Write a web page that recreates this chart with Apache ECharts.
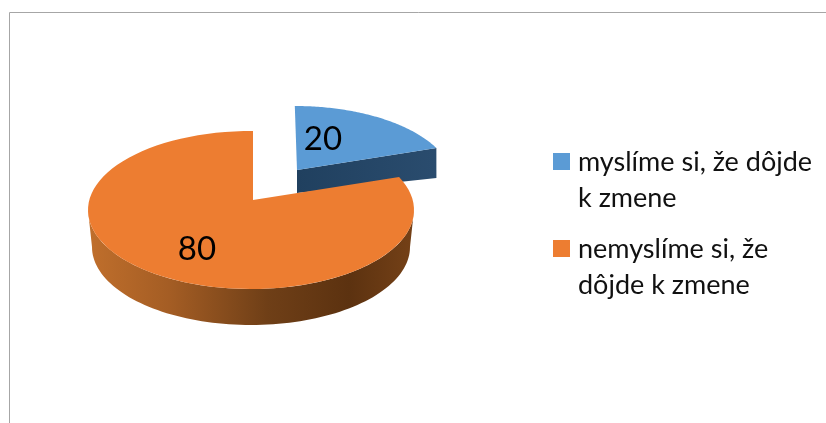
<!DOCTYPE html>
<html>
<head>
<meta charset="utf-8">
<style>html,body{margin:0;padding:0;background:#fff}#c{width:826px;height:423px}</style>
<script src="https://cdn.jsdelivr.net/npm/echarts@6/dist/echarts.min.js"></script>
</head>
<body>
<div id="c"></div>
<script>
var categories = ['myslíme si, že dôjde k zmene', 'nemyslíme si, že dôjde k zmene'];
var legendLines = [['myslíme si, že dôjde', 'k zmene'], ['nemyslíme si, že', 'dôjde k zmene']];
var values = [20, 80];
var colors = ['#5b9bd5', '#ed7d31'];

// Projected geometry of each exploded slice (ellipse of top and bottom face, apex lift)
var layout = [
  { cx: 295, cy: 182, rx: 158, ry: 76, lift: -12, apexDx: 2, lean: -2.6, botDepthApex: 23, botDepthEnd: 30,
    label: [323, 139], side: ['#20405f', '#2a4c6e'] },
  { cx: 251, cy: 210, rx: 163, ry: 79, lift: -10, apexDx: 2, lean: 0, botCy: 247, botRx: 159, botRy: 78,
    label: [197, 249],
    side: [[0, '#c06f2c'], [0.25, '#a45d24'], [0.55, '#6f3f17'], [0.8, '#5c3210'], [1, '#754117']] }
];

var total = values.reduce(function (a, b) { return a + b; }, 0);

// parametric ellipse angle hit by a ray leaving the apex at the projected slice angle
function rayParam(g, frac) {
  var a = frac * 2 * Math.PI;
  var dx = Math.sin(a) * g.rx + Math.cos(a) * g.lean, dy = -Math.cos(a) * g.ry;
  var ox = g.apexDx / g.rx, oy = g.lift / g.ry;
  var ux = dx / g.rx, uy = dy / g.ry;
  var A = ux * ux + uy * uy, B = 2 * (ox * ux + oy * uy), C = ox * ox + oy * oy - 1;
  var s = (-B + Math.sqrt(B * B - 4 * A * C)) / (2 * A);
  return Math.atan2(ox + s * ux, -(oy + s * uy));
}
function pt(cx, cy, rx, ry, t) { return [cx + Math.sin(t) * rx, cy - Math.cos(t) * ry]; }
function arc(cx, cy, rx, ry, t0, t1) {
  var out = [], n = 90;
  for (var i = 0; i <= n; i++) out.push(pt(cx, cy, rx, ry, t0 + (t1 - t0) * i / n));
  return out;
}

function makeRender(idx) {
  return function (params, api) {
    var g = layout[idx], v = api.value(0);
    var before = 0;
    for (var i = 0; i < idx; i++) before += values[i];
    var t0 = rayParam(g, before / total);
    var t1 = rayParam(g, (before + v) / total);
    if (t1 <= t0) t1 += 2 * Math.PI;
    var apex = [g.cx + g.apexDx, g.cy + g.lift];
    var top = arc(g.cx, g.cy, g.rx, g.ry, t0, t1);
    var children = [];
    if (idx === 0) {
      var e = top[top.length - 1];
      children.push({
        type: 'polygon',
        shape: { points: [apex, e, [e[0], e[1] + g.botDepthEnd], [apex[0], apex[1] + g.botDepthApex]] },
        style: { fill: { type: 'linear', x: 0, y: 0, x2: 1, y2: 0,
          colorStops: [{ offset: 0, color: g.side[0] }, { offset: 1, color: g.side[1] }] } }
      });
    } else {
      var upper = arc(g.cx, g.cy, g.rx, g.ry, Math.PI / 2, 3 * Math.PI / 2);
      var lower = arc(g.cx, g.botCy, g.botRx, g.botRy, 3 * Math.PI / 2, Math.PI / 2);
      children.push({
        type: 'polygon',
        shape: { points: upper.concat(lower) },
        style: { fill: { type: 'linear', x: 0, y: 0, x2: 1, y2: 0,
          colorStops: g.side.map(function (s) { return { offset: s[0], color: s[1] }; }) } }
      });
    }
    children.push({
      type: 'polygon',
      shape: { points: [apex].concat(top) },
      style: { fill: colors[idx] }
    });
    children.push({
      type: 'text',
      style: { x: g.label[0], y: g.label[1], text: String(v), fill: '#000',
        font: '33px Lato', align: 'center', verticalAlign: 'middle' }
    });
    return { type: 'group', children: children };
  };
}

var chart = echarts.init(document.getElementById('c'), null, { renderer: 'canvas' });
chart.setOption({
  animation: false,
  color: colors,
  backgroundColor: '#fff',
  graphic: [
    { type: 'rect', shape: { x: 9.5, y: 12.5, width: 1000, height: 600 },
      style: { fill: 'none', stroke: '#a6a6a6', lineWidth: 1 }, silent: true, z: -1 }
  ],
  legend: {
    left: 553, top: 144, orient: 'vertical', padding: 0, itemGap: 15,
    itemWidth: 17, itemHeight: 72,
    icon: 'path://M0 0H0M0 9H17V26H0ZM0 72H0',
    data: categories,
    selectedMode: false,
    formatter: function (name) { return legendLines[categories.indexOf(name)].join('\n'); },
    textStyle: { fontFamily: 'Lato', fontSize: 27, lineHeight: 36, color: '#111', padding: [0, 0, 0, 3] }
  },
  series: categories.map(function (name, i) {
    return {
      type: 'custom', name: name, coordinateSystem: 'none',
      z: i + 2,
      itemStyle: { color: colors[i] },
      renderItem: makeRender(i),
      data: [[values[i]]]
    };
  })
});
</script>
</body>
</html>
